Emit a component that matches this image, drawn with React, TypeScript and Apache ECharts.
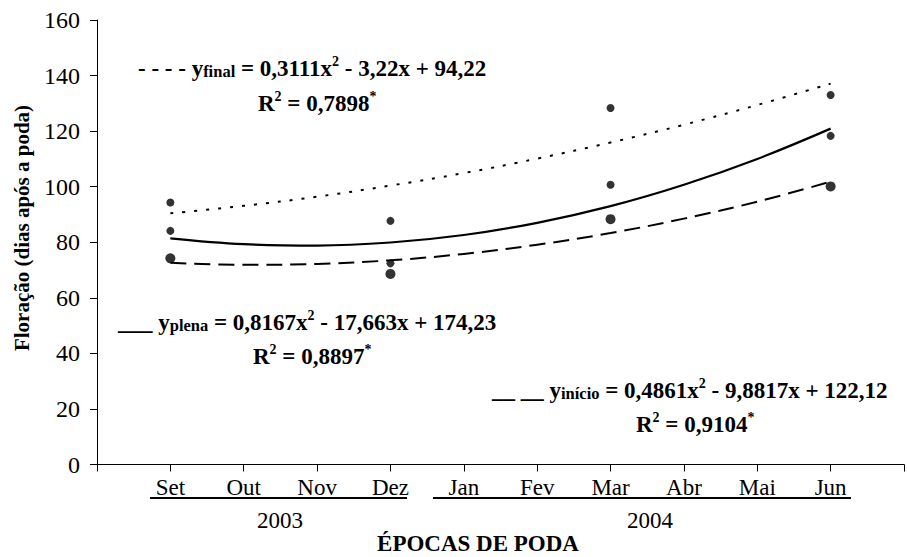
import React, { useEffect, useRef } from "react";
import * as echarts from "echarts";

const monthX = [9, 10, 11, 12, 13, 14, 15, 16, 17, 18];
const monthNames = ["Set", "Out", "Nov", "Dez", "Jan", "Fev", "Mar", "Abr", "Mai", "Jun"];
const yearLabels = ["2003", "2004"];
const yTicks = [0, 20, 40, 60, 80, 100, 120, 140, 160];

const obsX = [9, 12, 15, 18];
const obsFinal = [94.3, 87.7, 128.3, 133.0];
const obsPlena = [84.1, 72.4, 100.7, 118.3];
const obsInicio = [74.2, 68.6, 88.3, 100.1];

const curveFinal = [90.4, 93.1, 96.4, 100.4, 104.9, 110.1, 115.9, 122.3, 129.4, 137.1];
const curvePlena = [81.4, 79.3, 78.8, 79.9, 82.6, 87.0, 93.0, 100.7, 110.0, 120.9];
const curveInicio = [72.6, 71.9, 72.2, 73.5, 75.8, 79.1, 83.3, 88.5, 94.6, 101.8];

const FONT = "'Liberation Serif', serif";

const rich = {
  n: { fontFamily: FONT, fontWeight: "bold", fontSize: 23, color: "#000", verticalAlign: "bottom", lineHeight: 26 },
  s: { fontFamily: FONT, fontWeight: "bold", fontSize: 16.5, color: "#000", verticalAlign: "bottom", lineHeight: 23 },
  p: { fontFamily: FONT, fontWeight: "bold", fontSize: 14, color: "#000", verticalAlign: "top", lineHeight: 26 },
};

function eqText(x: number, y: number, text: string) {
  return {
    type: "text",
    left: x,
    top: y,
    style: { text, rich, fill: "#000", font: `bold 23px ${FONT}` },
  };
}

export default function App() {
  const ref = useRef<HTMLDivElement>(null);
  useEffect(() => {
    if (!ref.current) return;
    const chart = echarts.init(ref.current, undefined, { renderer: "svg" });
    const pair = (xs: number[], ys: number[]) => xs.map((x, i) => [x, ys[i]]);
    const option = {
      animation: false,
      backgroundColor: "#fff",
      textStyle: { fontFamily: FONT },
      grid: { left: 97, right: 2, top: 20, bottom: 92.5, containLabel: false },
      xAxis: {
        type: "value",
        min: 8,
        max: 19,
        interval: 1,
        splitLine: { show: false },
        axisLine: { show: true, onZero: false, lineStyle: { color: "#000", width: 1 } },
        axisTick: { show: true, inside: false, length: 7, lineStyle: { color: "#000" } },
        axisLabel: {
          margin: 11,
          fontFamily: FONT,
          fontSize: 23,
          color: "#000",
          formatter: (v: number) => {
            const i = monthX.indexOf(v);
            return i >= 0 ? monthNames[i] : "";
          },
        },
      },
      yAxis: {
        type: "value",
        min: yTicks[0],
        max: yTicks[yTicks.length - 1],
        interval: 20,
        splitLine: { show: false },
        axisLine: { show: true, lineStyle: { color: "#000", width: 1 } },
        axisTick: { show: true, inside: false, length: 7, lineStyle: { color: "#000" } },
        axisLabel: { margin: 17, fontFamily: FONT, fontSize: 24, color: "#000" },
      },
      graphic: [
        eqText(138, 54, "{n|- - - - y}{s|final}{n| = 0,3111x}{p|2}{n| - 3,22x + 94,22}"),
        eqText(258, 89, "{n|R}{p|2}{n| = 0,7898}{p|*}"),
        eqText(118, 308, "{n|___ y}{s|plena}{n| = 0,8167x}{p|2}{n| - 17,663x + 174,23}"),
        eqText(253, 342, "{n|R}{p|2}{n| = 0,8897}{p|*}"),
        eqText(492, 376, "{n|__ __ y}{s|início}{n| = 0,4861x}{p|2}{n| - 9,8817x + 122,12}"),
        eqText(636, 410, "{n|R}{p|2}{n| = 0,9104}{p|*}"),
        { type: "line", shape: { x1: 150, y1: 498, x2: 407, y2: 498 }, style: { stroke: "#000", lineWidth: 2 } },
        { type: "line", shape: { x1: 433, y1: 498, x2: 851, y2: 498 }, style: { stroke: "#000", lineWidth: 2 } },
        { type: "text", x: 280, y: 520, style: { text: yearLabels[0], font: `23px ${FONT}`, fill: "#000", align: "center", verticalAlign: "middle" } },
        { type: "text", x: 650, y: 520, style: { text: yearLabels[1], font: `23px ${FONT}`, fill: "#000", align: "center", verticalAlign: "middle" } },
        { type: "text", x: 478, y: 543, style: { text: "ÉPOCAS DE PODA", font: `bold 23px ${FONT}`, fill: "#000", align: "center", verticalAlign: "middle" } },
        { type: "text", x: 22, y: 228, rotation: Math.PI / 2, style: { text: "Floração (dias após a poda)", font: `bold 21px ${FONT}`, fill: "#000", align: "center", verticalAlign: "middle" } },
      ],
      series: [
        { type: "line", data: pair(monthX, curveFinal), smooth: 0.4, showSymbol: false, lineStyle: { color: "#000", width: 2, type: [3, 9] } },
        { type: "line", data: pair(monthX, curvePlena), smooth: 0.4, showSymbol: false, lineStyle: { color: "#000", width: 2.2, type: "solid" } },
        { type: "line", data: pair(monthX, curveInicio), smooth: 0.4, showSymbol: false, lineStyle: { color: "#000", width: 2, type: [16, 8] } },
        { type: "scatter", data: pair(obsX, obsFinal), symbolSize: 8, itemStyle: { color: "#000" } },
        { type: "scatter", data: pair(obsX, obsPlena), symbolSize: 8, itemStyle: { color: "#000" } },
        { type: "scatter", data: pair(obsX, obsInicio), symbolSize: 10, itemStyle: { color: "#000" } },
      ],
    };
    chart.setOption(option as any);
    return () => chart.dispose();
  }, []);
  return (
    <div
      ref={ref}
      style={{ position: "fixed", left: 0, top: 0, width: 907, height: 557, background: "#fff" }}
    />
  );
}
